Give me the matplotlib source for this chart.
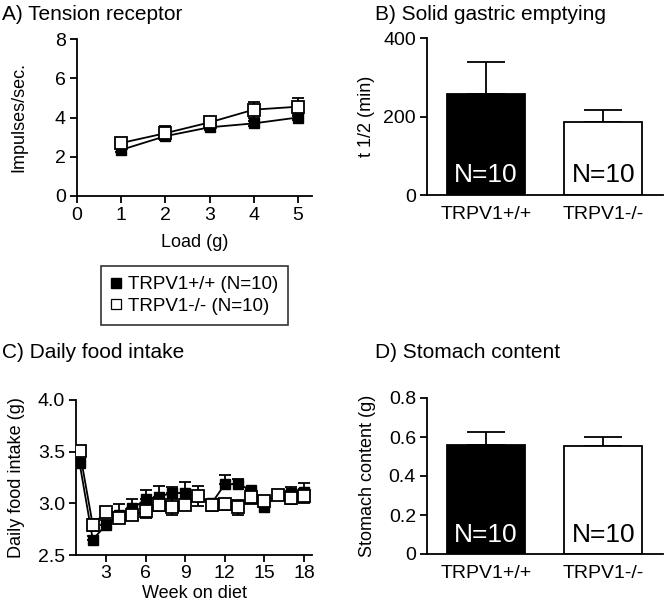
import matplotlib
matplotlib.use("Agg")
import matplotlib.pyplot as plt
from matplotlib.lines import Line2D
import numpy as np

plt.rcParams['font.family'] = ['Liberation Sans', 'DejaVu Sans']

# ---- Data ----
load = [1, 2, 3, 4, 5]
tension_wt = [2.35, 3.05, 3.5, 3.7, 4.0]
tension_wt_err = [0.12, 0.12, 0.12, 0.12, 0.12]
tension_ko = [2.7, 3.2, 3.75, 4.4, 4.55]
tension_ko_err = [0.2, 0.35, 0.3, 0.4, 0.45]

groups = ["TRPV1+/+", "TRPV1-/-"]
emptying = [257, 186]
emptying_err = [82, 30]

weeks = list(range(1, 19))
food_wt = [3.39, 2.65, 2.79, 2.89, 2.95, 3.04, 3.065, 3.10, 3.10, 3.07, 3.0,
           3.185, 3.185, 3.13, 2.965, 3.08, 3.10, 3.11]
food_wt_err = [0.04, 0.03, 0.05, 0.10, 0.09, 0.09, 0.10, 0.06, 0.11, 0.05, 0.03,
               0.09, 0.055, 0.02, 0.03, 0.03, 0.06, 0.09]
food_ko = [3.51, 2.79, 2.92, 2.86, 2.89, 2.925, 2.98, 2.965, 2.985, 3.07, 2.98,
           2.99, 2.96, 3.065, 3.02, 3.08, 3.055, 3.07]
food_ko_err = [0.03, 0.06, 0.04, 0.04, 0.04, 0.07, 0.05, 0.08, 0.04, 0.10, 0.05,
               0.05, 0.07, 0.07, 0.04, 0.04, 0.06, 0.07]

stomach = [0.557, 0.553]
stomach_err = [0.07, 0.047]
n_labels = ["N=10", "N=10"]

W, H = 664, 605
fig = plt.figure(figsize=(W / 100, H / 100), dpi=100)


def add_ax(l, r, t, b):
    return fig.add_axes([l / W, 1 - b / H, (r - l) / W, (b - t) / H])


def style(ax):
    for s in ["top", "right"]:
        ax.spines[s].set_visible(False)
    for s in ["left", "bottom"]:
        ax.spines[s].set_linewidth(1.3)
    ax.tick_params(width=1.3, length=5, labelsize=14, direction="out", pad=3)


lw = 1.3
ms = 7

# ---- A ----
axA = add_ax(77, 312, 39, 196)
style(axA)
axA.errorbar(load, tension_wt, yerr=tension_wt_err, color="black", lw=lw,
             marker="s", ms=ms, mfc="black", mec="black", capsize=4, elinewidth=lw, capthick=lw, zorder=3)
axA.errorbar(load, tension_ko, yerr=tension_ko_err, color="black", lw=lw,
             marker="s", ms=ms + 1, mfc="white", mec="black", mew=1.3, capsize=4, elinewidth=lw, capthick=lw, zorder=4)
axA.set_xlim(0, 5.32)
axA.set_ylim(0, 8)
axA.set_xticks([0, 1, 2, 3, 4, 5])
axA.set_yticks([0, 2, 4, 6, 8])
axA.set_xlabel("Load (g)", fontsize=13, labelpad=7)
axA.set_ylabel("Impulses/sec.", fontsize=13, labelpad=20)
fig.text(2 / W, 1 - 15 / H, "A) Tension receptor", fontsize=15, va="center", ha="left")


def bars(ax, vals, errs):
    x = np.arange(len(vals))
    ax.bar(x, vals, width=0.667, color=["black", "white"], edgecolor="black", linewidth=1.3, zorder=2)
    ax.errorbar(x, vals, yerr=[[0] * len(vals), errs], fmt="none", ecolor="black",
                elinewidth=lw, capsize=14, capthick=lw, zorder=1)
    ax.set_xlim(-0.504, 1.51)
    ax.set_xticks(x)
    ax.set_xticklabels(groups, fontsize=14)
    ax.tick_params(axis="x", length=0, pad=8)
    return x


# ---- B ----
axB = add_ax(427, 663, 38, 195)
style(axB)
axB.set_ylim(0, 400)
xb = bars(axB, emptying, emptying_err)
axB.set_yticks([0, 200, 400])
axB.set_ylabel("t 1/2 (min)", fontsize=13, labelpad=6)
for i in range(2):
    axB.text(xb[i], 50, n_labels[i], fontsize=19, ha="center", va="center",
             color="white" if i == 0 else "black", zorder=5)
fig.text(375 / W, 1 - 15 / H, "B) Solid gastric emptying", fontsize=15, va="center", ha="left")

# ---- Legend ----
handles = [Line2D([], [], marker="s", ls="none", mfc="black", mec="black", ms=7),
           Line2D([], [], marker="s", ls="none", mfc="white", mec="black", mew=0.9, ms=7)]
leg = fig.legend(handles, ["TRPV1+/+ (N=10)", "TRPV1-/- (N=10)"], loc="center",
                 bbox_to_anchor=((100 + 289) / 2 / W, 1 - (260 + 331) / 2 / H),
                 fontsize=13.5, frameon=True, fancybox=False, handlelength=0.5,
                 handletextpad=0.4, borderpad=0.55, labelspacing=0.25)
leg.get_frame().set_edgecolor("black")
leg.get_frame().set_linewidth(1.2)

# ---- C ----
axC = add_ax(76, 312, 400, 555)
style(axC)
zeros = [0] * len(weeks)
axC.errorbar(weeks, food_wt, yerr=[zeros, food_wt_err], color="black", lw=lw,
             marker="s", ms=ms, mfc="black", mec="black", capsize=4, elinewidth=lw, capthick=lw, zorder=3)
axC.errorbar(weeks, food_ko, yerr=food_ko_err, color="black", lw=lw,
             marker="s", ms=ms + 1, mfc="white", mec="black", mew=1.3, capsize=4, elinewidth=lw, capthick=lw, zorder=4)
axC.set_xlim(0.73, 18.6)
axC.set_ylim(2.5, 4.0)
axC.set_xticks([3, 6, 9, 12, 15, 18])
axC.set_yticks([2.5, 3.0, 3.5, 4.0])
axC.set_yticklabels(["2.5", "3.0", "3.5", "4.0"])
axC.tick_params(axis="x", pad=2)
axC.set_xlabel("Week on diet", fontsize=13, labelpad=2)
axC.set_ylabel("Daily food intake (g)", fontsize=13, labelpad=9)
fig.text(2 / W, 1 - 352 / H, "C) Daily food intake", fontsize=15, va="center", ha="left")

# ---- D ----
axD = add_ax(427, 663, 398, 554)
style(axD)
axD.set_ylim(0, 0.8)
xd = bars(axD, stomach, stomach_err)
axD.set_yticks([0, 0.2, 0.4, 0.6, 0.8])
axD.set_yticklabels(["0", "0.2", "0.4", "0.6", "0.8"])
axD.set_ylabel("Stomach content (g)", fontsize=13, labelpad=9)
for i in range(2):
    axD.text(xd[i], 0.1, n_labels[i], fontsize=19, ha="center", va="center",
             color="white" if i == 0 else "black", zorder=5)
fig.text(375 / W, 1 - 352 / H, "D) Stomach content", fontsize=15, va="center", ha="left")

fig.savefig("out.png", dpi=100)
